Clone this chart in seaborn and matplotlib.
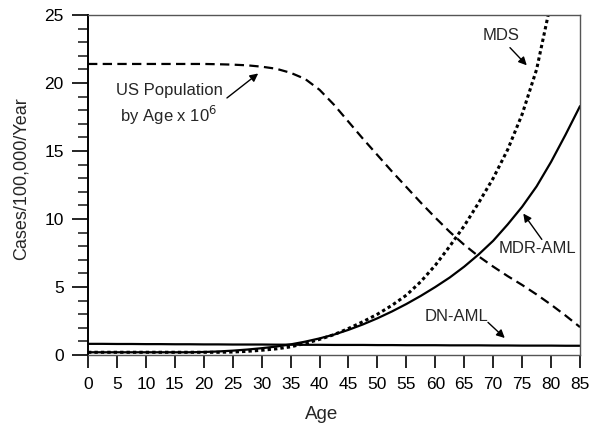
import matplotlib
matplotlib.use("Agg")
import matplotlib.pyplot as plt
import seaborn as sns
import numpy as np

# ---- data (every 2.5 years of age) ----
ages = [0, 2.5, 5, 7.5, 10, 12.5, 15, 17.5, 20, 22.5, 25, 27.5, 30, 32.5, 35,
        37.5, 40, 42.5, 45, 47.5, 50, 52.5, 55, 57.5, 60, 62.5, 65, 67.5, 70,
        72.5, 75, 77.5, 80, 82.5, 85]
us_population = [21.4, 21.4, 21.4, 21.4, 21.4, 21.4, 21.4, 21.4, 21.4, 21.38,
                 21.35, 21.3, 21.2, 21.05, 20.75, 20.3, 19.5, 18.4, 17.15, 15.9,
                 14.7, 13.5, 12.35, 11.2, 10.1, 9.05, 8.1, 7.25, 6.5, 5.8,
                 5.15, 4.45, 3.7, 2.9, 2.05]
mdr_aml = [0.2, 0.2, 0.2, 0.2, 0.2, 0.2, 0.2, 0.2, 0.22, 0.26,
           0.32, 0.4, 0.5, 0.62, 0.78, 0.98, 1.22, 1.5, 1.85, 2.25,
           2.7, 3.2, 3.75, 4.35, 5.0, 5.7, 6.5, 7.4, 8.4, 9.6,
           10.9, 12.4, 14.2, 16.2, 18.3]
dn_aml = [0.82, 0.82, 0.81, 0.81, 0.80, 0.80, 0.79, 0.79, 0.78, 0.78,
          0.77, 0.77, 0.77, 0.76, 0.76, 0.75, 0.75, 0.74, 0.74, 0.74,
          0.73, 0.73, 0.72, 0.72, 0.72, 0.71, 0.71, 0.71, 0.70, 0.70,
          0.69, 0.69, 0.69, 0.68, 0.68]
mds_ages = ages[:33]
mds = [0.2, 0.2, 0.2, 0.2, 0.2, 0.2, 0.2, 0.2, 0.2, 0.2,
       0.22, 0.27, 0.35, 0.45, 0.6, 0.85, 1.15, 1.5, 1.95, 2.45,
       3.0, 3.65, 4.4, 5.4, 6.6, 8.0, 9.5, 11.2, 13.0, 15.1,
       17.7, 21.0, 26.0]
x_ticks = list(range(0, 90, 5))
y_ticks = [0, 5, 10, 15, 20, 25]

sns.set_theme(style="ticks")
plt.rcParams['font.family'] = ['Liberation Sans', 'DejaVu Sans']

fig = plt.figure(figsize=(6.0, 4.25), dpi=100)
ax = fig.add_axes([0.1467, 0.1647, 0.82, 0.80])

lw = 1.6
sns.lineplot(x=ages, y=us_population, ax=ax, color='black', lw=lw,
             linestyle=(0, (4.2, 2.4)))
sns.lineplot(x=mds_ages, y=mds, ax=ax, color='black', lw=2.2,
             linestyle=(0, (1.1, 1.0)))
sns.lineplot(x=ages, y=mdr_aml, ax=ax, color='black', lw=lw)
sns.lineplot(x=ages, y=dn_aml, ax=ax, color='black', lw=lw)

ax.set_xlim(0, 85)
ax.set_ylim(0, 25)
ax.set_xticks(x_ticks)
ax.set_yticks(y_ticks)
ax.set_yticks(np.arange(0, 26, 1), minor=True)
ax.tick_params(axis='y', which='major', length=11.5, width=1.2, pad=6,
               labelsize=12.5, colors='black')
ax.tick_params(axis='y', which='minor', length=7, width=1.2)
ax.tick_params(axis='x', which='major', length=9, width=1.2, pad=7,
               labelsize=12.5, colors='black')
for s in ['top', 'right', 'bottom']:
    ax.spines[s].set_color('#555555')
    ax.spines[s].set_linewidth(1.0)
ax.spines['left'].set_color('black')
ax.spines['left'].set_linewidth(1.4)

ax.set_xlabel('Age', fontsize=13.5)
ax.set_ylabel('Cases/100,000/Year', fontsize=13)
ax.xaxis.set_label_coords(0.474, -0.150)
ax.yaxis.set_label_coords(-0.118, 0.52)

fs = 12
arrow = dict(arrowstyle='-|>', color='black', lw=1.0, mutation_scale=12,
             shrinkA=0, shrinkB=0)
ax.text(4.8, 18.4, 'US Population\n by Age x 10$^6$', fontsize=fs,
        ha='left', va='center', linespacing=1.3)
ax.annotate('', xy=(29.4, 20.7), xytext=(24.0, 18.9), arrowprops=arrow)

ax.text(71.4, 23.5, 'MDS', fontsize=fs, ha='center', va='center')
ax.annotate('', xy=(75.8, 21.3), xytext=(72.9, 22.6), arrowprops=arrow)

ax.text(77.7, 7.8, 'MDR-AML', fontsize=fs, ha='center', va='center')
ax.annotate('', xy=(75.2, 10.4), xytext=(78.4, 8.5), arrowprops=arrow)

ax.text(63.6, 2.8, 'DN-AML', fontsize=fs, ha='center', va='center')
ax.annotate('', xy=(72.0, 1.25), xytext=(69.1, 2.4), arrowprops=arrow)

fig.savefig('out.png', dpi=100)
